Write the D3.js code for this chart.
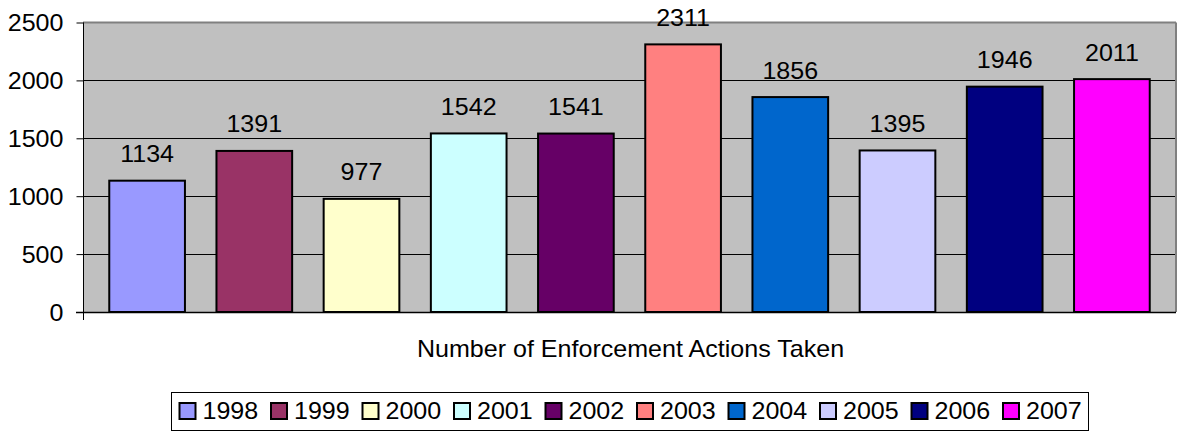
<!DOCTYPE html>
<html>
<head>
<meta charset="utf-8">
<script src="https://cdn.jsdelivr.net/npm/d3@7"></script>
<style>
  html, body { margin: 0; padding: 0; background: #fff; }
  text { font-family: Arial, "Liberation Sans", sans-serif; fill: #000; }
</style>
</head>
<body>
<svg id="chart" width="1177" height="433"></svg>
<script>
const years = ["1998","1999","2000","2001","2002","2003","2004","2005","2006","2007"];
const values = [1134, 1391, 977, 1542, 1541, 2311, 1856, 1395, 1946, 2011];
const colors = ["#9999FF","#993366","#FFFFCC","#CCFFFF","#660066","#FF8080","#0066CC","#CCCCFF","#000080","#FF00FF"];
const yTicks = [0, 500, 1000, 1500, 2000, 2500];
const categoryLabel = "Number of Enforcement Actions Taken";

(function () {
const FS = 23, SX = 1.09;
const svg = d3.select("#chart");
const pL = 83, pR = 1176, pT = 22.5, pB = 312;

const y = d3.scaleLinear().domain([0, 2500]).range([pB, pT]);
const x = d3.scaleBand().domain(years).range([pL, pR]).paddingInner(0.294).paddingOuter(0.245);

// plot background
svg.append("rect").attr("x", pL).attr("y", pT).attr("width", pR - pL).attr("height", pB - pT).attr("fill", "#C0C0C0");

// gridlines
svg.append("g").selectAll("line").data(yTicks.filter(t => t > 0 && t < 2500)).join("line")
  .attr("x1", pL).attr("x2", pR).attr("y1", d => Math.round(y(d)) + 0.5).attr("y2", d => Math.round(y(d)) + 0.5)
  .attr("stroke", "#000").attr("stroke-width", 1);

// border top & right
svg.append("line").attr("x1", pL).attr("x2", pR).attr("y1", pT).attr("y2", pT).attr("stroke", "#808080").attr("stroke-width", 2);
svg.append("line").attr("x1", pR).attr("x2", pR).attr("y1", pT).attr("y2", pB).attr("stroke", "#808080").attr("stroke-width", 2);

// bars
svg.append("g").selectAll("rect").data(years).join("rect")
  .attr("x", d => x(d)).attr("width", x.bandwidth())
  .attr("y", (d, i) => y(values[i])).attr("height", (d, i) => y(0) - y(values[i]))
  .attr("fill", (d, i) => colors[i]).attr("stroke", "#000").attr("stroke-width", 2);

// value labels
svg.append("g").selectAll("text").data(years).join("text")
  .attr("text-anchor", "middle").attr("font-size", FS)
  .attr("transform", (d, i) => `translate(${x(d) + x.bandwidth() / 2},${y(values[i]) - 18.5}) scale(${SX},1)`)
  .text((d, i) => values[i]);

// y axis
const yAxis = d3.axisLeft(y).tickValues(yTicks).tickSize(7).tickPadding(13).tickFormat(d3.format("d"));
const gy = svg.append("g").attr("transform", `translate(${pL + 0.5},0)`).call(yAxis);
gy.select(".domain").remove();
gy.selectAll(".tick line").attr("stroke", "#000");
gy.selectAll(".tick text").each(function () {
  const t = d3.select(this);
  const xx = +t.attr("x");
  t.attr("x", null).attr("dy", null).attr("font-size", FS).attr("font-family", "Arial, 'Liberation Sans', sans-serif")
    .attr("fill", "#000")
    .attr("dominant-baseline", "central")
    .attr("transform", `translate(${xx},0) scale(${SX},1)`);
});
// axis lines
svg.append("line").attr("x1", pL + 0.5).attr("x2", pL + 0.5).attr("y1", pT).attr("y2", pB + 8).attr("stroke", "#000").attr("stroke-width", 1);
svg.append("line").attr("x1", pL - 7).attr("x2", pR).attr("y1", pB + 0.5).attr("y2", pB + 0.5).attr("stroke", "#000").attr("stroke-width", 1.5);

// category label
svg.append("text").attr("text-anchor", "middle").attr("font-size", FS)
  .attr("transform", `translate(${(pL + pR) / 2 + 1},357) scale(${SX},1)`)
  .text(categoryLabel);

// legend
const lx = d3.scaleLinear().domain([0, 1]).range([179, 270.5]);
svg.append("rect").attr("x", 171.5).attr("y", 392.5).attr("width", 917).attr("height", 38).attr("fill", "#fff").attr("stroke", "#000").attr("stroke-width", 1);
const lg = svg.append("g").selectAll("g").data(years).join("g").attr("transform", (d, i) => `translate(${lx(i)},0)`);
lg.append("rect").attr("x", 0.5).attr("y", 403).attr("width", 16).attr("height", 16)
  .attr("fill", (d, i) => colors[i]).attr("stroke", "#000").attr("stroke-width", 2);
lg.append("text").attr("font-size", FS).attr("transform", `translate(23.5,419) scale(${SX},1)`).text(d => d);
})();
</script>
</body>
</html>
